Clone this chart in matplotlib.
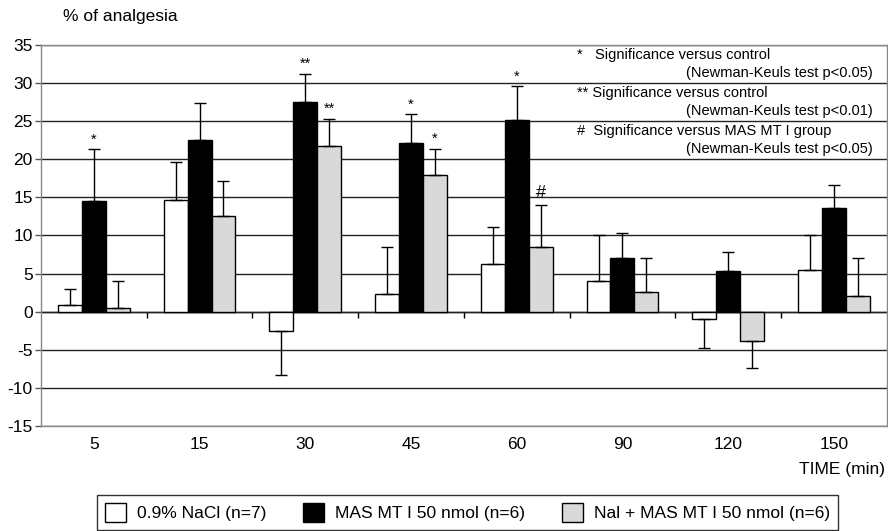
import matplotlib
matplotlib.use("Agg")
import matplotlib.pyplot as plt
from matplotlib.patches import Patch
import numpy as np

plt.rcParams['font.family'] = ['Liberation Sans', 'DejaVu Sans']
plt.rcParams['axes.unicode_minus'] = False

times = ['5', '15', '30', '45', '60', '90', '120', '150']

# mean % of analgesia and one-sided SEM
nacl = [0.9, 14.6, -2.5, 2.3, 6.2, 4.0, -0.9, 5.5]
nacl_err = [2.1, 5.1, 5.8, 6.2, 4.9, 6.1, 3.8, 4.6]
mas = [14.5, 22.5, 27.5, 22.1, 25.1, 7.1, 5.4, 13.6]
mas_err = [6.8, 4.9, 3.7, 3.8, 4.5, 3.2, 2.4, 3.0]
nal = [0.5, 12.6, 21.8, 18.0, 8.5, 2.6, -3.8, 2.1]
nal_err = [3.5, 4.6, 3.5, 3.4, 5.5, 4.5, 3.6, 5.0]

mas_sig = ['*', '', '**', '*', '*', '', '', '']
nal_sig = ['', '', '**', '*', '#', '', '', '']

labels = ['0.9% NaCl (n=7)', 'MAS MT I 50 nmol (n=6)', 'Nal + MAS MT I 50 nmol (n=6)']
colors = ['white', 'black', '#d9d9d9']

fig = plt.figure(figsize=(8.88, 5.31), dpi=100)
ax = fig.add_axes([0.0462, 0.1977, 0.9523, 0.7176])

x = np.arange(len(times))
w = 0.226
series = [(nacl, nacl_err), (mas, mas_err), (nal, nal_err)]
for i, (vals, errs) in enumerate(series):
    pos = x + (i - 1) * w
    ax.bar(pos, vals, w, color=colors[i], edgecolor='black', linewidth=1, zorder=2)
    vals = np.array(vals)
    errs = np.array(errs)
    lower = np.where(vals < 0, errs, 0)
    upper = np.where(vals >= 0, errs, 0)
    ax.errorbar(pos, vals, yerr=[lower, upper], fmt='none', ecolor='black',
                elinewidth=1, capsize=4.5, capthick=1, zorder=3)

# significance marks above the error bars
for i, (s, v, e) in enumerate(zip(mas_sig, mas, mas_err)):
    if s:
        ax.annotate(s, (x[i], v + e), xytext=(0, 2), textcoords='offset points',
                    ha='center', va='bottom', fontsize=10.5)
for i, (s, v, e) in enumerate(zip(nal_sig, nal, nal_err)):
    if s:
        ax.annotate(s, (x[i] + w, v + e), xytext=(0, 2), textcoords='offset points',
                    ha='center', va='bottom', fontsize=13 if s == '#' else 10.5)

ax.set_xlim(-0.5, len(times) - 0.5)
ax.set_ylim(-15, 35)
ax.set_yticks(np.arange(-15, 36, 5))
ax.yaxis.grid(True, color='#222222', linewidth=1)
ax.set_axisbelow(True)
ax.set_xticks(x)
ax.set_xticklabels(times)
ax.tick_params(axis='x', length=0, pad=8, labelsize=12.5)
ax.tick_params(axis='y', length=4, width=1, color='#555555', labelsize=12.5, pad=2)
for sp in ax.spines.values():
    sp.set_color('#888888')
    sp.set_linewidth(1)

# zero line with category separators
zero = ax.secondary_xaxis(0, transform=ax.transData)
zero.set_xticks(np.arange(0.5, len(times) - 0.5, 1))
zero.set_xticklabels([])
zero.tick_params(axis='x', length=4, width=1, color='black')
zero.spines['bottom'].set_color('black')
zero.spines['bottom'].set_linewidth(1)

# significance key
notes = [('*   Significance versus control', '(Newman-Keuls test p<0.05)'),
         ('** Significance versus control', '(Newman-Keuls test p<0.01)'),
         ('#  Significance versus MAS MT I group', '(Newman-Keuls test p<0.05)')]
for k, (a, b) in enumerate(notes):
    ytop = 35 - 5 * k
    ax.text(0.634, ytop - 1.25, a, transform=ax.get_yaxis_transform(),
            ha='left', va='center', fontsize=10.5)
    ax.text(0.984, ytop - 3.7, b, transform=ax.get_yaxis_transform(),
            ha='right', va='center', fontsize=10.5)

fig.text(0.071, 0.968, '% of analgesia', ha='left', va='center', fontsize=12.5)
fig.text(0.997, 0.115, 'TIME (min)', ha='right', va='center', fontsize=12.5)

handles = [Patch(facecolor=c, edgecolor='black', linewidth=1) for c in colors]
leg = fig.legend(handles, labels, ncol=3, loc='center',
                 bbox_to_anchor=(0.5265, 0.0345), fontsize=12.5,
                 handlelength=1.2, handleheight=1.3, handletextpad=0.65,
                 columnspacing=2.1, frameon=True, fancybox=False,
                 borderpad=0.45, borderaxespad=0)
leg.get_frame().set_edgecolor('black')
leg.get_frame().set_linewidth(1)

fig.savefig('out.png', dpi=100)
